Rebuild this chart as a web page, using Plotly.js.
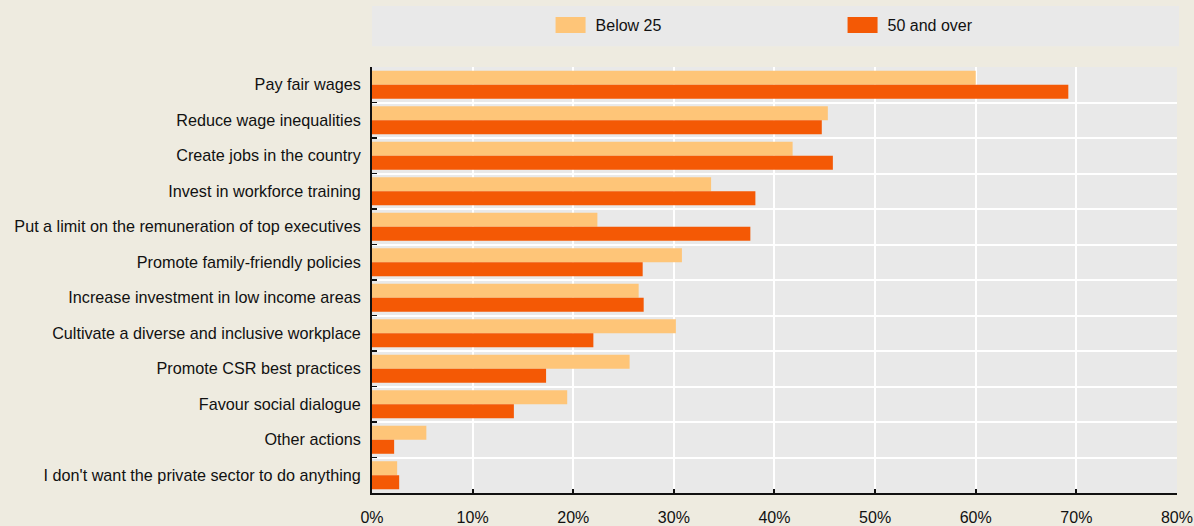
<!DOCTYPE html>
<html>
<head>
<meta charset="utf-8">
<script src="https://cdn.plot.ly/plotly-3.0.1.min.js"></script>
<style>
  html, body { margin: 0; padding: 0; background: #eeebe0; }
  #chart { width: 1194px; height: 526px; }
</style>
</head>
<body>
<div id="chart"></div>
<script>
const categories = [
  "Pay fair wages",
  "Reduce wage inequalities",
  "Create jobs in the country",
  "Invest in workforce training",
  "Put a limit on the remuneration of top executives",
  "Promote family-friendly policies",
  "Increase investment in low income areas",
  "Cultivate a diverse and inclusive workplace",
  "Promote CSR best practices",
  "Favour social dialogue",
  "Other actions",
  "I don't want the private sector to do anything"
];
const below25 = [60.0, 45.3, 41.8, 33.7, 22.4, 30.8, 26.5, 30.2, 25.6, 19.4, 5.4, 2.5];
const over50  = [69.2, 44.7, 45.8, 38.1, 37.6, 26.9, 27.0, 22.0, 17.3, 14.1, 2.2, 2.7];
const seriesNames = ["Below 25", "50 and over"];
const xTickVals = [0, 10, 20, 30, 40, 50, 60, 70, 80];
const xTickText = ["0%", "10%", "20%", "30%", "40%", "50%", "60%", "70%", "80%"];

const FONT = "'Liberation Sans', Arial, sans-serif";

const traces = [
  {
    type: "bar", orientation: "h", name: seriesNames[0],
    y: categories, x: below25,
    marker: { color: "#fec578", line: { width: 0 } },
    hoverinfo: "x+y"
  },
  {
    type: "bar", orientation: "h", name: seriesNames[1],
    y: categories, x: over50,
    marker: { color: "#f45905", line: { width: 0 } },
    hoverinfo: "x+y"
  }
];

const layout = {
  width: 1194, height: 526,
  paper_bgcolor: "#eeebe0",
  plot_bgcolor: "#e9e9e9",
  margin: { l: 372, r: 17, t: 67, b: 33, pad: 0, autoexpand: false },
  font: { family: FONT, size: 16, color: "#111" },
  barmode: "group",
  bargap: 0.21,
  bargroupgap: 0,
  showlegend: true,
  legend: {
    orientation: "h",
    x: 0.2156, xanchor: "left",
    y: 1.0986, yanchor: "middle",
    bgcolor: "rgba(0,0,0,0)",
    font: { family: FONT, size: 16, color: "#111" },
    entrywidth: 237, entrywidthmode: "pixels",
    itemwidth: 40
  },
  xaxis: {
    range: [0, 80.001],
    tickvals: xTickVals, ticktext: xTickText,
    showgrid: true, gridcolor: "#ffffff", gridwidth: 2,
    zeroline: false,
    showline: true, linecolor: "#111", linewidth: 2,
    ticks: "inside", ticklen: 4, tickcolor: "#111", tickwidth: 2,
    ticklabelstandoff: 9,
    ticklabeloverflow: "allow",
    tickfont: { family: FONT, size: 16, color: "#111" },
    fixedrange: true
  },
  yaxis: {
    type: "category",
    autorange: "reversed",
    tickson: "boundaries",
    showgrid: true, gridcolor: "#ffffff", gridwidth: 2,
    showline: true, linecolor: "#111", linewidth: 2,
    ticks: "inside", ticklen: 5, tickcolor: "#111", tickwidth: 1.5,
    ticklabelstandoff: 6,
    tickfont: { family: FONT, size: 16.2, color: "#111" },
    fixedrange: true
  },
  shapes: [
    {
      type: "rect", xref: "paper", yref: "paper", layer: "below",
      x0: 0, x1: 1.0025, y0: 1.049, y1: 1.143,
      fillcolor: "#e9e9e9", line: { width: 0 }
    }
  ]
};

Plotly.newPlot("chart", traces, layout, { displayModeBar: false, staticPlot: true }).then(function (gd) {
  // enlarge legend swatches to match the reference's wide rectangles
  document.querySelectorAll(".legendpoints path").forEach(function (p) {
    p.setAttribute("d", "M15,8H-15V-8H15Z");
  });
});
</script>
</body>
</html>
